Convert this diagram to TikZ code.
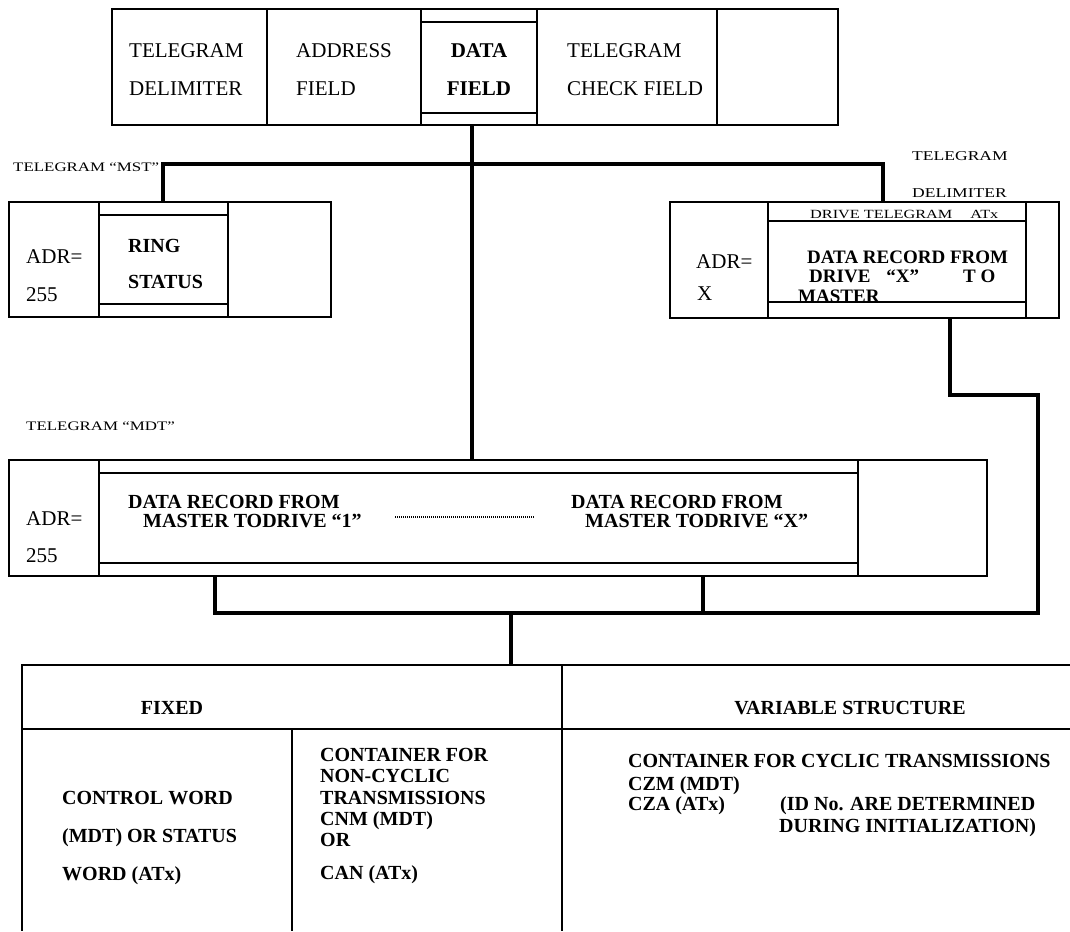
\documentclass[tikz,border=0pt]{standalone}
\usepackage{fontspec}
\setmainfont{Liberation Serif}
\newfontfamily\tagfont[FakeStretch=1.3]{Liberation Serif}
\usetikzlibrary{positioning}

\begin{document}
\begin{tikzpicture}[
    x=1pt, y=-1pt,
    frame/.style={line width=1.6pt},
    bus/.style={line width=4.5pt, line join=miter},
    field/.style={font=\fontsize{21}{22}\selectfont, anchor=base west, inner sep=0pt},
    rec/.style={font=\bfseries\fontsize{20}{20}\selectfont, anchor=base west, inner sep=0pt},
    tag/.style={font=\tagfont\fontsize{13}{14}\selectfont, anchor=base west, inner sep=0pt}
]

\useasboundingbox (0,0) rectangle (1070,931);

% ------------------------------------------------------------
% Telegram frame
% ------------------------------------------------------------
\draw[frame] (112,9) rectangle (838,125);
\foreach \x in {267,421,537,717}
  \draw[frame] (\x,9) -- (\x,125);
\draw[frame] (421,22) -- (537,22) (421,113) -- (537,113);

\node[field] (tdel1) at (129,58) {TELEGRAM};
\node[field] (tdel2) at (129,96) {DELIMITER};
\node[field] (adr1)  at (296,58) {ADDRESS};
\node[field] (adr2)  at (296,96) {FIELD};
\node[field,font=\bfseries\fontsize{21}{22}\selectfont,anchor=base] (dat1) at (479,58) {DATA};
\node[field,font=\bfseries\fontsize{21}{22}\selectfont,anchor=base] (dat2) at (479,96) {FIELD};
\node[field] (chk1)  at (567,58) {TELEGRAM};
\node[field] (chk2)  at (567,96) {CHECK FIELD};

% ------------------------------------------------------------
% Telegram MST and drive telegram ATx
% ------------------------------------------------------------
\node[tag] (mstlbl) at (13,171) {TELEGRAM “MST”};
\node[tag,font=\tagfont\fontsize{13.5}{14}\selectfont] (dlm1) at (912,160) {TELEGRAM};
\node[tag,font=\tagfont\fontsize{13.5}{14}\selectfont] (dlm2) at (912,197) {DELIMITER};

\draw[frame] (9,202) rectangle (331,317);
\draw[frame] (99,202) -- (99,317) (228,202) -- (228,317);
\draw[frame] (99,215) -- (228,215) (99,304) -- (228,304);

\node[field] (mstadr) at (26,263) {ADR=};
\node[field] (mstnum) at (26,301) {255};
\node[rec]   (ring1)  at (128,252) {RING};
\node[rec]   (ring2)  at (128,288) {STATUS};

\draw[frame] (670,202) rectangle (1059,318);
\draw[frame] (768,202) -- (768,318) (1026,202) -- (1026,318);
\draw[frame] (768,221) -- (1026,221) (768,302) -- (1026,302);

\node[tag,font=\tagfont\fontsize{12.5}{14}\selectfont] (atxlbl) at (810,218) {DRIVE TELEGRAM\hspace{18pt}ATx};
\node[field] (atxadr) at (696,268) {ADR=};
\node[field] (atxnum) at (697,300) {X};
\node[rec,font=\bfseries\fontsize{19}{20}\selectfont] (drv1) at (807,263) {DATA RECORD FROM};
\node[rec,font=\bfseries\fontsize{19}{20}\selectfont] (drv2) at (809,282) {DRIVE\hspace{16pt}“X”\hspace{44pt}T O};
\node[rec,font=\bfseries\fontsize{19}{20}\selectfont] (drv3) at (798,302) {MASTER};

% ------------------------------------------------------------
% Telegram MDT
% ------------------------------------------------------------
\node[tag] (mdtlbl) at (26,430) {TELEGRAM “MDT”};

\draw[frame] (9,460) rectangle (987,576);
\draw[frame] (99,460) -- (99,576) (858,460) -- (858,576);
\draw[frame] (99,473) -- (858,473) (99,563) -- (858,563);

\node[field] (mdtadr) at (26,525) {ADR=};
\node[field] (mdtnum) at (26,562) {255};
\node[rec] (mrec1) at (128,508) {DATA RECORD FROM};
\node[rec] (mrec2) at (143,527) {MASTER TODRIVE “1”};
\node[rec] (nrec1) at (571,508) {DATA RECORD FROM};
\node[rec] (nrec2) at (585,527) {MASTER TODRIVE “X”};
\coordinate (dotL) at (395,517);
\coordinate (dotR) at (534,517);
\draw[line width=1.1pt, dash pattern=on 1pt off 1pt] (dotL) -- (dotR);

% ------------------------------------------------------------
% Data field structure
% ------------------------------------------------------------
\draw[frame] (1070,665) -- (22,665) -- (22,931);
\draw[frame] (22,729) -- (1070,729);
\draw[frame] (562,665) -- (562,931);
\draw[frame] (292,729) -- (292,931);

\node[rec,anchor=base] (fixed) at (172,714) {FIXED};
\node[rec,anchor=base] (vari)  at (850,714) {VARIABLE STRUCTURE};

\node[rec] (cw1) at (62,804) {CONTROL WORD};
\node[rec] (cw2) at (62,842) {(MDT) OR STATUS};
\node[rec] (cw3) at (62,880) {WORD (ATx)};

\node[rec] (nc1) at (320,761) {CONTAINER FOR};
\node[rec] (nc2) at (320,782) {NON-CYCLIC};
\node[rec] (nc3) at (320,804) {TRANSMISSIONS};
\node[rec] (nc4) at (320,825) {CNM (MDT)};
\node[rec] (nc5) at (320,846) {OR};
\node[rec] (nc6) at (320,879) {CAN (ATx)};

\node[rec] (cy1) at (628,767) {CONTAINER FOR CYCLIC TRANSMISSIONS};
\node[rec] (cy2) at (628,790) {CZM (MDT)};
\node[rec] (cy3) at (628,810) {CZA (ATx)};
\node[rec] (id1) at (780,810) {(ID No. ARE DETERMINED};
\node[rec] (id2) at (779,832) {DURING INITIALIZATION)};

% ------------------------------------------------------------
% Connections
% ------------------------------------------------------------
\coordinate (topout) at (472,125);
\coordinate (split)  at (472,164);
\coordinate (mstin)  at (163,202);
\coordinate (atxin)  at (883,202);
\coordinate (mdtin)  at (472,460);
\coordinate (atxout) at (950,318);
\coordinate (bendR)  at (1038,395);
\coordinate (busR)   at (1038,613);
\coordinate (busL)   at (215,613);
\coordinate (mdtout1) at (215,576);
\coordinate (mdtout2) at (703,576);
\coordinate (tblin)  at (511,665);

\draw[bus] (topout) -- (mdtin);
\draw[bus] (mstin) |- (split) -| (atxin);
\draw[bus] (atxout) |- (bendR) -- (busR) -- (busL) -- (mdtout1);
\draw[bus] (mdtout2) -- (mdtout2 |- busL);
\draw[bus] (tblin) -- (tblin |- busL);

\end{tikzpicture}
\end{document}
